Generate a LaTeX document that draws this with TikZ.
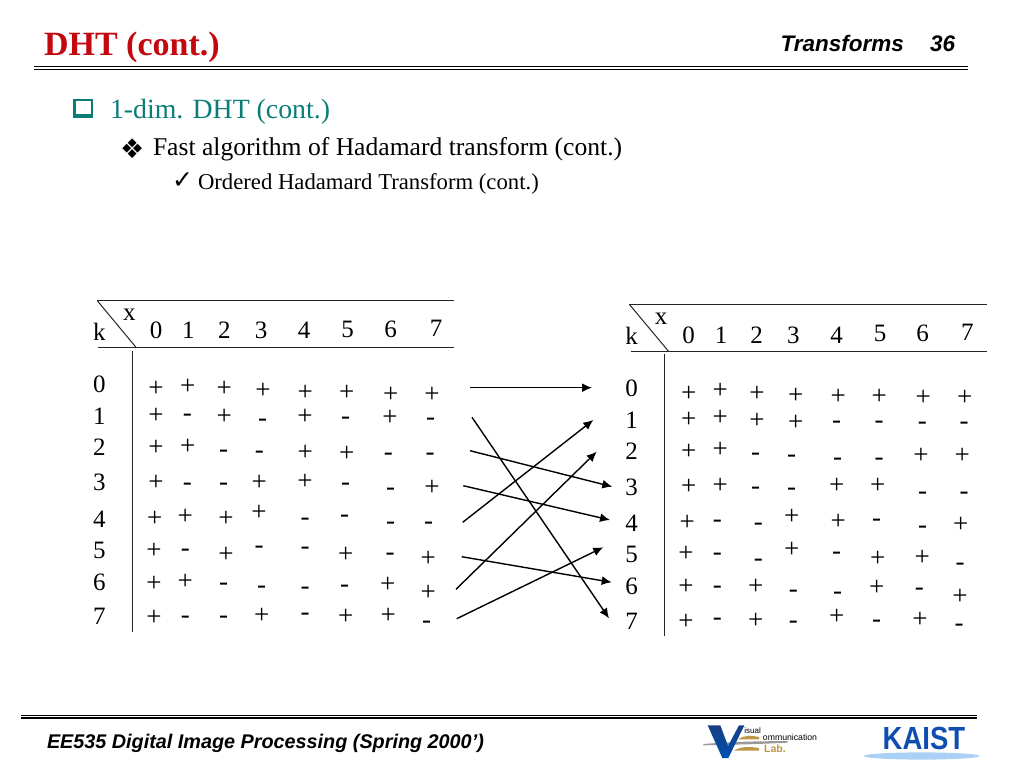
\documentclass[tikz,border=0pt]{standalone}
\usepackage{fontspec}
\setmainfont{Liberation Serif}
\newfontfamily\arialf{Liberation Sans}
\newfontfamily\dejavuf{DejaVu Sans}
\usetikzlibrary{arrows.meta}
\definecolor{titlered}{RGB}{196,8,16}
\definecolor{tealtext}{RGB}{10,125,120}
\definecolor{kaistblue}{RGB}{14,78,176}
\definecolor{kaistsky}{RGB}{170,208,245}
\definecolor{vcgold}{RGB}{190,150,70}
\definecolor{vcblue}{RGB}{24,62,130}
\tikzset{
  txt/.style={inner sep=0pt,outer sep=0pt,anchor=base west,text=black},
  cell/.style={inner sep=0pt,outer sep=0pt,anchor=center,font=\fontsize{25}{25}\selectfont,text=black},
  signcell/.style={inner sep=0pt,outer sep=0pt,anchor=center,font=\fontsize{27}{27}\selectfont,text=black},
  rulethin/.style={line width=1pt,black},
  rulethick/.style={line width=1.6pt,black},
  tableline/.style={line width=1pt,black!85},
  mapping/.style={line width=1.4pt,black,-{Latex[length=10pt,width=9pt]}},
}
\newcommand{\signtable}[4]{%
  \foreach \s/\px/\py [count=\n] in {#4}{
    \node[signcell] (#1s\n) at ({#2+\px/3},{#3+\py/3}) {\vphantom{+}\s};
  }
}
\begin{document}
\begin{tikzpicture}[x=1pt,y=-1pt]
\useasboundingbox (0,0) rectangle (1024,768);
\fill[white] (0,0) rectangle (1024,768);

% header
\node[txt,text=titlered,font=\fontsize{34}{34}\selectfont\bfseries] (title) at (44,55.5) {DHT (cont.)};
\node[txt,font=\arialf\fontsize{22.5}{22.5}\selectfont\bfseries\itshape] (chap) at (780.5,51.5) {Transforms};
\node[txt,font=\arialf\fontsize{22.5}{22.5}\selectfont\bfseries\itshape] (pageno) at (930,51.5) {36};
\coordinate (tr1a) at (34,66.8); \coordinate (tr1b) at (968,66.8);
\coordinate (tr2a) at (34,69.6); \coordinate (tr2b) at (968,69.6);
\draw[rulethin] (tr1a) -- (tr1b);
\draw[rulethick] (tr2a) -- (tr2b);

% bullets
\fill[tealtext] (72.5,98.5) rectangle (92.5,117.8);
\fill[white] (75.5,100.5) rectangle (90.7,113.6);
\node[txt,text=tealtext,font=\fontsize{27.8}{27.8}\selectfont] (b1) at (110,118) {1-dim. DHT (cont.)};
\node[txt,font=\dejavuf\fontsize{27}{27}\selectfont] (b2m) at (120,158) {❖};
\node[txt,font=\fontsize{25.6}{25.6}\selectfont] (b2) at (153,155) {Fast algorithm of Hadamard transform (cont.)};
\node[txt,font=\dejavuf\fontsize{25}{25}\selectfont] (b3m) at (172,188) {✓};
\node[txt,font=\fontsize{22.7}{22.7}\selectfont] (b3) at (198,189) {Ordered Hadamard Transform (cont.)};

% left table
\begin{scope}
\coordinate (la) at (97.3,300.7); \coordinate (lb) at (454,300.7);
\coordinate (lc) at (136,347.3); \coordinate (ld) at (98.3,347.3); \coordinate (le) at (454,347.3);
\coordinate (lf) at (132,350.7); \coordinate (lg) at (132,631.7);
\draw[tableline] (la) -- (lb);
\draw[tableline] (la) -- (lc);
\draw[tableline] (ld) -- (le);
\draw[tableline] (lf) -- (lg);
\foreach \t/\px/\py [count=\n] in {k/58/125,x/148/75,0/228/122,1/325/122,2/433/122,3/543/122,4/672/122,5/803/117,6/932/117,7/1068/115,
  0/58/282,1/58/380,2/58/472,3/58/578,4/58/687,5/58/782,6/58/877,7/58/980}{
  \node[cell] (lh\n) at ({80+\px/3},{290+\py/3}) {\t};
}
\signtable{l}{80}{290}{
+/228/296,+/323/292,+/433/298,+/549/302,+/676/308,+/800/308,+/932/314,+/1056/314,
+/228/378,-/322/372,+/433/381,-/548/386,+/675/380,-/797/382,+/930/385,-/1052/385,
+/228/475,+/323/470,-/431/480,-/538/483,+/676/490,+/800/491,-/925/488,-/1050/488,
+/228/580,-/322/578,-/431/578,+/538/580,+/675/575,-/797/578,-/932/594,+/1056/594,
+/224/687,+/316/680,+/438/688,+/537/668,-/675/684,-/794/676,-/932/695,-/1046/695,
+/222/782,-/316/778,+/438/796,-/537/769,-/675/772,+/797/795,-/930/790,+/1045/806,
+/222/882,+/316/876,-/431/880,-/545/888,-/675/892,-/794/885,+/923/885,+/1045/908,
+/222/984,-/316/977,-/431/979,+/545/978,-/675/970,+/797/980,+/925/978,-/1040/992}
\end{scope}

% right table
\begin{scope}
\coordinate (ra) at (629.3,304.3); \coordinate (rb) at (986.7,304.3);
\coordinate (rc) at (668.3,351); \coordinate (rd) at (630.7,351); \coordinate (re) at (986.7,351);
\coordinate (rf) at (664.3,354.3); \coordinate (rg) at (664.3,635.7);
\draw[tableline] (ra) -- (rb);
\draw[tableline] (ra) -- (rc);
\draw[tableline] (rd) -- (re);
\draw[tableline] (rf) -- (rg);
\foreach \t/\px/\py [count=\n] in {k/65/122,x/153/72,0/236/120,1/333/120,2/440/120,3/550/120,4/680/120,5/810/115,6/938/115,7/1072/112,
  0/65/280,1/65/376,2/65/468,3/65/577,4/65/685,5/65/778,6/65/875,7/65/978}{
  \node[cell] (rh\n) at ({610+\px/3},{295+\py/3}) {\t};
}
\signtable{r}{610}{295}{
+/236/296,+/331/288,+/441/296,+/557/302,+/685/305,+/808/305,+/940/310,+/1064/310,
+/236/375,+/331/368,+/441/379,+/557/384,-/680/378,-/807/378,-/937/382,-/1062/382,
+/236/472,+/331/466,-/437/475,-/545/480,-/683/488,-/807/488,+/933/484,+/1057/484,
+/236/576,+/331/572,-/437/575,-/545/580,+/680/573,+/803/573,-/938/592,-/1062/592,
+/232/685,-/322/676,-/445/685,+/545/667,+/685/682,-/800/672,-/938/692,+/1052/690,
+/228/778,-/322/775,-/445/792,+/545/766,-/680/770,+/803/793,+/937/788,-/1050/804,
+/228/877,-/322/872,+/437/877,-/550/885,-/683/890,+/800/880,-/928/880,+/1050/905,
+/228/980,-/322/970,+/437/977,-/550/977,+/680/965,-/800/975,+/930/975,-/1047/988}
\end{scope}

% mapping arrows
\coordinate (m0a) at (470,387.7);   \coordinate (m0b) at (592,387.7);
\coordinate (m1a) at (472,417.3);   \coordinate (m1b) at (609,618.3);
\coordinate (m2a) at (470,450.7);   \coordinate (m2b) at (612.3,486.7);
\coordinate (m3a) at (463.3,485.7); \coordinate (m3b) at (610,520);
\coordinate (m4a) at (462.7,522.3); \coordinate (m4b) at (593.3,420);
\coordinate (m5a) at (456,589.3);   \coordinate (m5b) at (596.7,451.7);
\coordinate (m6a) at (461.7,556.7); \coordinate (m6b) at (611.7,582.3);
\coordinate (m7a) at (456.7,618.7); \coordinate (m7b) at (603.3,547.3);
\foreach \i in {0,...,7}{ \draw[mapping] (m\i a) -- (m\i b); }

% footer
\coordinate (fr1a) at (21,715.6); \coordinate (fr1b) at (977,715.6);
\coordinate (fr2a) at (21,718.2); \coordinate (fr2b) at (977,718.2);
\draw[rulethin] (fr1a) -- (fr1b);
\draw[rulethick] (fr2a) -- (fr2b);
\node[txt,font=\arialf\fontsize{19.8}{19.8}\selectfont\bfseries\itshape] (foot) at (47,748) {EE535 Digital Image Processing (Spring 2000’)};

% Visual Communication Lab logo
\begin{scope}[shift={(695,718)},x=0.3333pt,y=-0.3333pt]
\fill[black!40] (25,78) .. controls (120,70) and (200,70) .. (278,69) -- (278,74) .. controls (200,78) and (120,80) .. (25,82) -- cycle;
\shade[top color=vcblue,bottom color=blue!55!cyan!70!black] (38,22) -- (76,22) -- (99,84) -- (132,22) -- (148,22) -- (100,120) -- (82,120) -- cycle;
\fill[vcgold] (130,64) .. controls (150,50) and (170,52) .. (192,57) -- (192,64) -- cycle;
\fill[vcgold] (116,98) .. controls (140,84) and (165,86) .. (192,90) -- (192,98) -- cycle;
\node[cell,font=\arialf\fontsize{8}{8}\selectfont] (vc1) at (173,38) {isual};
\node[cell,font=\arialf\fontsize{8.7}{8.7}\selectfont] (vc2) at (285,58) {ommunication};
\node[cell,text=vcgold,font=\arialf\fontsize{10.5}{10.5}\selectfont\bfseries] (vc3) at (240,93) {Lab.};
\end{scope}

% KAIST logo
\fill[kaistsky] (921.7,756) ellipse [x radius=58,y radius=3.6];
\node[cell,text=kaistblue,xscale=0.86,font=\arialf\fontsize{32}{32}\selectfont\bfseries] (kaist) at (924,738.5) {KAIST};
\end{tikzpicture}
\end{document}
